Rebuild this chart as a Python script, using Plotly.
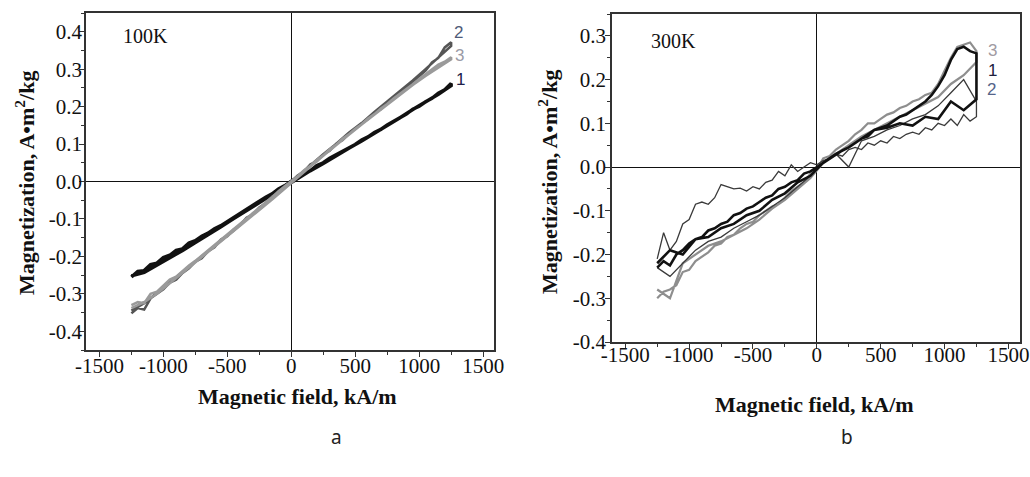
import plotly.graph_objects as go

# ---------------- data ----------------
FIELD_UP = [-1250, -1200, -1150, -1100, -1050, -1000, -950, -900, -850, -800,
            -750, -700, -650, -600, -550, -500, -450, -400, -350, -300,
            -250, -200, -150, -100, -50, 0, 50, 100, 150, 200,
            250, 300, 350, 400, 450, 500, 550, 600, 650, 700,
            750, 800, 850, 900, 950, 1000, 1050, 1100, 1150, 1200, 1250]
FIELD_DOWN = [1250, 1150, 1050, 950, 850, 750, 650, 550, 450, 350, 250, 150, 50,
              -50, -150, -250, -350, -450, -550, -650, -750, -850, -950, -1050, -1150, -1250]

# 100 K
m100_s1_up = [-0.255, -0.240, -0.238, -0.222, -0.218, -0.203, -0.197, -0.184, -0.180, -0.164,
              -0.158, -0.146, -0.138, -0.126, -0.118, -0.107, -0.097, -0.085, -0.076, -0.063,
              -0.054, -0.042, -0.033, -0.020, -0.011, 0.001, 0.010, 0.022, 0.029, 0.043,
              0.050, 0.062, 0.071, 0.080, 0.091, 0.099, 0.111, 0.119, 0.131, 0.139,
              0.151, 0.160, 0.171, 0.180, 0.193, 0.201, 0.213, 0.222, 0.236, 0.245, 0.262]
m100_s1_down = [0.256, 0.233, 0.213, 0.192, 0.170, 0.149, 0.128, 0.108, 0.089, 0.068, 0.048, 0.029, 0.008,
                -0.014, -0.035, -0.057, -0.078, -0.099, -0.121, -0.141, -0.163, -0.184, -0.204, -0.223, -0.243, -0.252]
m100_s2_up = [-0.352, -0.338, -0.342, -0.312, -0.300, -0.288, -0.270, -0.262, -0.244, -0.232,
              -0.214, -0.205, -0.186, -0.176, -0.155, -0.146, -0.128, -0.116, -0.097, -0.088,
              -0.069, -0.058, -0.040, -0.030, -0.012, 0.000, 0.016, 0.027, 0.046, 0.054,
              0.073, 0.082, 0.101, 0.110, 0.128, 0.140, 0.155, 0.167, 0.184, 0.193,
              0.212, 0.222, 0.240, 0.250, 0.266, 0.282, 0.296, 0.318, 0.330, 0.358, 0.372]
m100_s2_down = [0.362, 0.330, 0.300, 0.270, 0.243, 0.214, 0.186, 0.156, 0.130, 0.100, 0.073, 0.043, 0.014,
                -0.016, -0.044, -0.074, -0.101, -0.131, -0.158, -0.186, -0.213, -0.243, -0.269, -0.298, -0.325, -0.345]
m100_s3_up = [-0.330, -0.322, -0.325, -0.300, -0.294, -0.278, -0.262, -0.254, -0.238, -0.224,
              -0.212, -0.198, -0.183, -0.171, -0.155, -0.141, -0.127, -0.114, -0.099, -0.084,
              -0.071, -0.055, -0.042, -0.026, -0.013, 0.002, 0.014, 0.030, 0.042, 0.058,
              0.070, 0.086, 0.098, 0.114, 0.126, 0.141, 0.153, 0.168, 0.180, 0.195,
              0.207, 0.222, 0.234, 0.248, 0.260, 0.274, 0.286, 0.298, 0.312, 0.320, 0.332]
m100_s3_down = [0.326, 0.305, 0.282, 0.258, 0.232, 0.206, 0.180, 0.152, 0.125, 0.098, 0.069, 0.040, 0.010,
                -0.020, -0.048, -0.076, -0.104, -0.131, -0.160, -0.188, -0.216, -0.244, -0.272, -0.300, -0.322, -0.338]

# 300 K
m300_s1_up = [-0.230, -0.215, -0.225, -0.200, -0.190, -0.175, -0.165, -0.160, -0.145, -0.140,
              -0.130, -0.125, -0.110, -0.105, -0.095, -0.090, -0.080, -0.070, -0.065, -0.050,
              -0.045, -0.035, -0.030, -0.015, -0.010, 0.000, 0.010, 0.020, 0.030, 0.038,
              0.045, 0.055, 0.065, 0.070, 0.085, 0.090, 0.095, 0.105, 0.115, 0.120,
              0.130, 0.140, 0.150, 0.165, 0.185, 0.210, 0.245, 0.270, 0.275, 0.265, 0.260]
m300_s1_down = [0.155, 0.130, 0.150, 0.110, 0.115, 0.095, 0.100, 0.090, 0.085, 0.065, 0.045, 0.030, 0.010,
                -0.020, -0.035, -0.060, -0.075, -0.100, -0.110, -0.130, -0.140, -0.160, -0.165, -0.200, -0.190, -0.220]
m300_s2_up = [-0.210, -0.150, -0.190, -0.170, -0.130, -0.120, -0.085, -0.080, -0.085, -0.070,
              -0.040, -0.045, -0.050, -0.048, -0.055, -0.045, -0.050, -0.035, -0.030, -0.010,
              -0.020, 0.005, -0.010, 0.000, 0.010, 0.005, 0.015, 0.020, 0.030, 0.025,
              0.040, 0.045, 0.040, 0.055, 0.050, 0.060, 0.055, 0.070, 0.065, 0.075,
              0.080, 0.075, 0.090, 0.085, 0.100, 0.095, 0.110, 0.095, 0.120, 0.105, 0.115]
m300_s2_down = [0.150, 0.200, 0.170, 0.140, 0.120, 0.110, 0.095, 0.085, 0.070, 0.060, 0.000, 0.030, 0.010,
                -0.020, -0.045, -0.070, -0.090, -0.110, -0.125, -0.140, -0.160, -0.170, -0.190, -0.220, -0.250, -0.230]
m300_s3_up = [-0.300, -0.285, -0.280, -0.270, -0.240, -0.235, -0.215, -0.205, -0.195, -0.180,
              -0.175, -0.160, -0.155, -0.140, -0.130, -0.125, -0.110, -0.100, -0.090, -0.085,
              -0.070, -0.055, -0.045, -0.035, -0.015, -0.005, 0.020, 0.025, 0.040, 0.050,
              0.060, 0.075, 0.085, 0.100, 0.100, 0.110, 0.120, 0.125, 0.135, 0.140,
              0.150, 0.155, 0.165, 0.170, 0.190, 0.220, 0.250, 0.275, 0.280, 0.285, 0.265]
m300_s3_down = [0.240, 0.210, 0.190, 0.160, 0.145, 0.130, 0.115, 0.100, 0.085, 0.070, 0.050, 0.030, 0.010,
                -0.025, -0.050, -0.075, -0.095, -0.120, -0.140, -0.155, -0.170, -0.180, -0.200, -0.220, -0.300, -0.280]

X_TICKS = [-1500, -1000, -500, 0, 500, 1000, 1500]
X_TICK_TEXT = ["-1500", "-1000", "-500", "0", "500", "1000", "1500"]
X_MINOR = [-1250, -750, -250, 250, 750, 1250]
Y_TICKS_A = [-0.4, -0.3, -0.2, -0.1, 0.0, 0.1, 0.2, 0.3, 0.4]
Y_TICK_TEXT_A = ["-0.4", "-0.3", "-0.2", "-0.1", "0.0", "0.1", "0.2", "0.3", "0.4"]
Y_MINOR_A = [-0.45, -0.35, -0.25, -0.15, -0.05, 0.05, 0.15, 0.25, 0.35, 0.45]
Y_TICKS_B = [-0.4, -0.3, -0.2, -0.1, 0.0, 0.1, 0.2, 0.3]
Y_TICK_TEXT_B = ["-0.4", "-0.3", "-0.2", "-0.1", "0.0", "0.1", "0.2", "0.3"]
Y_MINOR_B = [-0.35, -0.25, -0.15, -0.05, 0.05, 0.15, 0.25, 0.35]

# ---------------- figure ----------------
W, H = 1030, 477
SERIF = "Liberation Serif"
SANS = "Liberation Sans"
fig = go.Figure()


def add_loop(up, down, color, width, xa, ya):
    fig.add_trace(go.Scatter(x=FIELD_UP + FIELD_DOWN, y=up + down, mode="lines",
                             line=dict(color=color, width=width),
                             xaxis=xa, yaxis=ya, showlegend=False, hoverinfo="skip"))


add_loop(m100_s1_up, m100_s1_down, "#111111", 3.5, "x", "y")
add_loop(m100_s2_up, m100_s2_down, "#555555", 2.5, "x", "y")
add_loop(m100_s3_up, m100_s3_down, "#9a9a9a", 2.5, "x", "y")

add_loop(m300_s3_up, m300_s3_down, "#8e8e8e", 2.2, "x2", "y2")
add_loop(m300_s2_up, m300_s2_down, "#3a3a3a", 1.3, "x2", "y2")
add_loop(m300_s1_up, m300_s1_down, "#111111", 2.6, "x2", "y2")


def px_x(p):
    return p / W


def px_y(p):
    return 1 - p / H


def axis(domain, rng, anchor, tv, tt, mv, standoff):
    return dict(domain=domain, range=rng, anchor=anchor, autorange=False,
                tickmode="array", tickvals=tv, ticktext=tt,
                tickfont=dict(family=SERIF, size=21, color="#111"),
                ticklabelstandoff=standoff,
                minor=dict(tickmode="array", tickvals=mv, ticks="outside", ticklen=3,
                           tickcolor="#333", tickwidth=1.2),
                showline=True, linecolor="#333", linewidth=1.5, mirror=True,
                ticks="outside", ticklen=5, tickcolor="#333", tickwidth=1.3,
                showgrid=False, zeroline=True, zerolinecolor="#111", zerolinewidth=1.2,
                automargin=False)


fig.update_layout(
    width=W, height=H, autosize=False,
    margin=dict(l=0, r=0, t=0, b=0, pad=0),
    font=dict(family=SERIF, size=21, color="#111"),
    paper_bgcolor="white", plot_bgcolor="white",
    xaxis=axis([px_x(86), px_x(494)], [-1605, 1585], "y", X_TICKS, X_TICK_TEXT, X_MINOR, -9),
    yaxis=axis([px_y(350), px_y(13)], [-0.45, 0.45], "x", Y_TICKS_A, Y_TICK_TEXT_A, Y_MINOR_A, -7),
    xaxis2=axis([px_x(612), px_x(1020)], [-1604, 1591], "y2", X_TICKS, X_TICK_TEXT, X_MINOR, -12),
    yaxis2=axis([px_y(342), px_y(14)], [-0.4, 0.35], "x2", Y_TICKS_B, Y_TICK_TEXT_B, Y_MINOR_B, -5),
)

ann = []


def add_text(text, x, y, size, family, color="#111", angle=0, bold=False):
    t = f"<b>{text}</b>" if bold else text
    ann.append(dict(text=t, x=px_x(x), y=px_y(y), xref="paper", yref="paper",
                    showarrow=False, xanchor="center", yanchor="middle", textangle=angle,
                    font=dict(family=family, size=size, color=color)))


YTITLE = "Magnetization, A•m<sup>2</sup>/kg"
XTITLE = "Magnetic field, kA/m"
add_text(YTITLE, 25, 183, 22, SERIF, angle=-90, bold=True)
add_text(YTITLE, 548, 182, 22, SERIF, angle=-90, bold=True)
add_text(XTITLE, 297, 396, 22, SERIF, bold=True)
add_text(XTITLE, 814, 404, 22, SERIF, bold=True)
add_text("100K", 145, 36, 20, SERIF)
add_text("300K", 673, 41, 20, SERIF)

add_text("2", 458, 32, 17, SANS, color="#4e5a78")
add_text("3", 459, 55, 17, SANS, color="#9a9aa6")
add_text("1", 460, 79, 17, SANS, color="#20204a")
add_text("3", 992, 50, 17, SANS, color="#a09aa2")
add_text("1", 992, 70, 17, SANS, color="#20203e")
add_text("2", 991, 90, 17, SANS, color="#55648a")

add_text("a", 336, 437, 19, "Noto Sans", color="#222")
add_text("b", 847, 437, 19, "Noto Sans", color="#222")

fig.update_layout(annotations=ann)
fig.write_html("out.html", config={"displayModeBar": False},
               post_script="document.body.style.margin='0';")
